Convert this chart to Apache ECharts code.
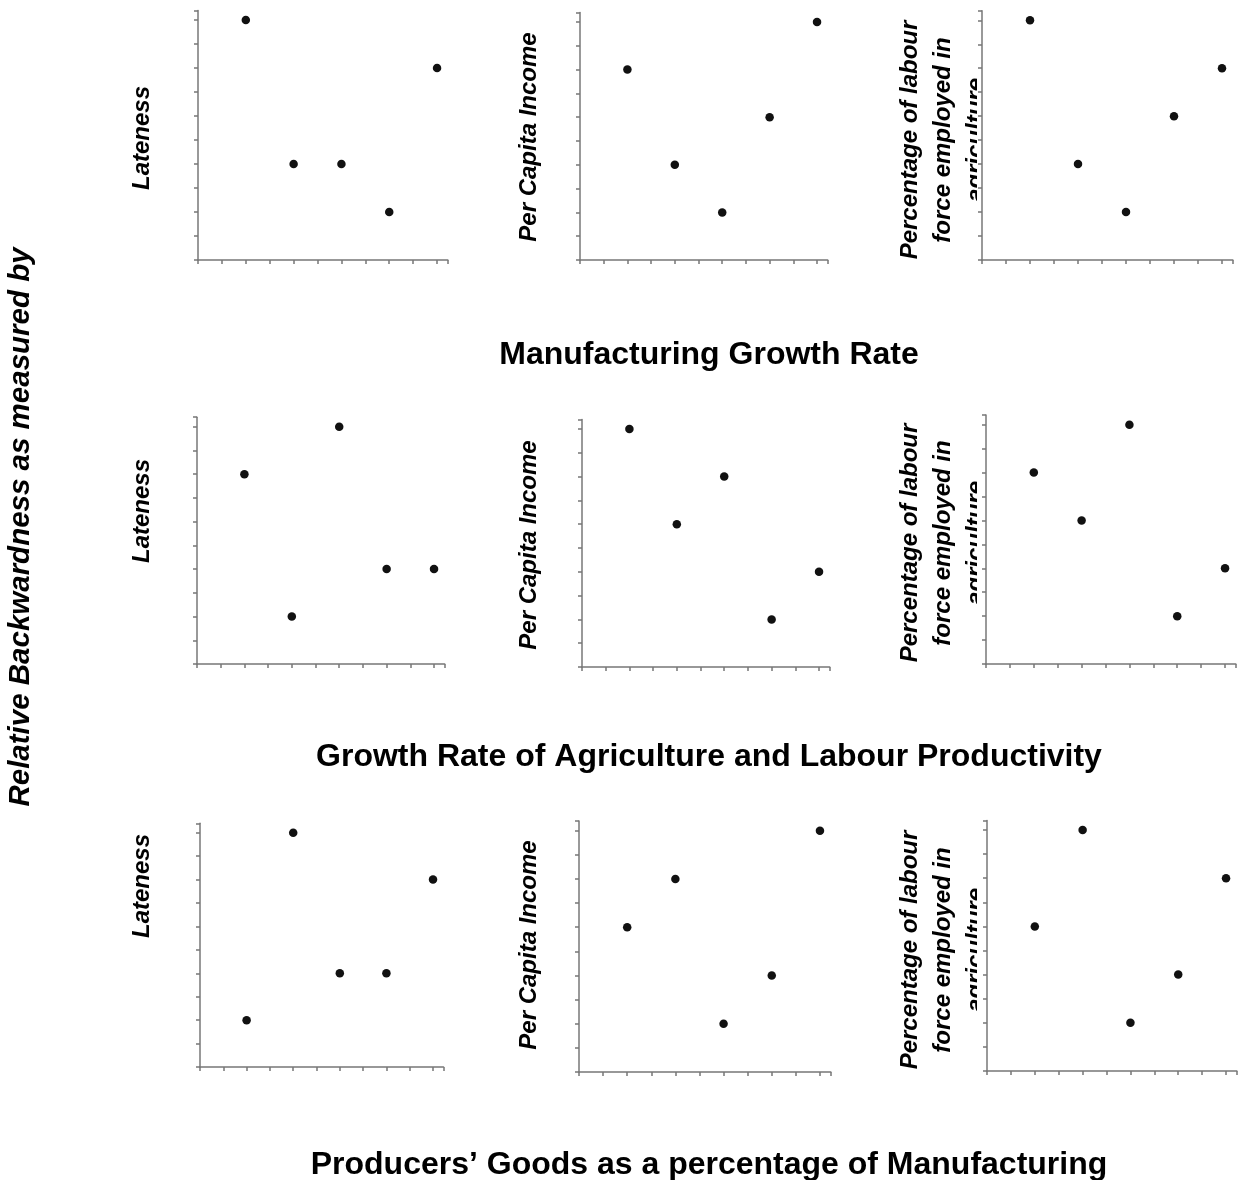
<!DOCTYPE html>
<html>
<head>
<meta charset="utf-8">
<script src="https://cdn.jsdelivr.net/npm/echarts@6/dist/echarts.min.js"></script>
<style>
html,body{margin:0;padding:0;background:#fff;}
#chart{width:1243px;height:1180px;}
</style>
</head>
<body>
<div id="chart"></div>
<script>
// ---- data ----
const xValues = [2, 4, 6, 8, 10];
const mfgLateness = [10, 4, 4, 2, 8];
const mfgIncome = [8, 4, 2, 6, 10];
const mfgLabour = [10, 4, 2, 6, 8];
const agrLateness = [8, 2, 10, 4, 4];
const agrIncome = [10, 6, 8, 2, 4];
const agrLabour = [8, 6, 10, 2, 4];
const pgLateness = [2, 10, 4, 4, 8];
const pgIncome = [6, 8, 2, 4, 10];
const pgLabour = [6, 10, 2, 4, 8];

const rowTitles = [
  'Manufacturing Growth Rate',
  'Growth Rate of Agriculture and Labour Productivity',
  'Producers\u2019 Goods as a percentage of Manufacturing'
];
const panelLabels = [
  'Lateness',
  'Per Capita Income',
  'Percentage of labour\nforce employed in\nagriculture'
];
const sideTitle = 'Relative Backwardness as measured by';

const panelValues = [
  mfgLateness, mfgIncome, mfgLabour,
  agrLateness, agrIncome, agrLabour,
  pgLateness, pgIncome, pgLabour
];

// ---- layout ----
const grids = [
  {left: 198, top: 10.4, width: 249.8, height: 249.6},
  {left: 580, top: 12.5, width: 247.7, height: 247.5},
  {left: 982, top: 10.7, width: 250.8, height: 249.3},
  {left: 197, top: 417.2, width: 247.7, height: 246.8},
  {left: 582, top: 419.5, width: 247.7, height: 247.5},
  {left: 986, top: 415.1, width: 249.8, height: 248.9},
  {left: 200, top: 823.3, width: 243.5, height: 243.7},
  {left: 579, top: 821.0, width: 251.8, height: 251.0},
  {left: 987, top: 820.4, width: 249.8, height: 250.6}
];
const labelX = [142, 529, 943];
const labelY = [[138, 137, 140], [511, 545, 543], [886, 945, 950]];
const titleY = [355, 757, 1165];

const axisLineStyle = {color: '#777777', width: 1.5};
const tickStyle = {color: '#777777', width: 1.5};

const option = {
  backgroundColor: '#ffffff',
  animation: false,
  grid: grids.map(g => Object.assign({containLabel: false}, g)),
  xAxis: grids.map((g, i) => ({
    gridIndex: i, type: 'value', min: 0, max: 10.45, interval: 1, z: 5,
    axisLine: {show: true, onZero: false, lineStyle: axisLineStyle},
    axisTick: {show: true, length: 4, inside: false, lineStyle: tickStyle},
    axisLabel: {show: false}, splitLine: {show: false}
  })),
  yAxis: grids.map((g, i) => ({
    gridIndex: i, type: 'value', min: 0, max: 10.4, interval: 1, z: 5,
    axisLine: {show: true, onZero: false, lineStyle: axisLineStyle},
    axisTick: {show: true, length: 4, inside: false, lineStyle: tickStyle},
    axisLabel: {show: false}, splitLine: {show: false}
  })),
  series: panelValues.map((vals, i) => ({
    type: 'scatter', xAxisIndex: i, yAxisIndex: i, z: 6,
    symbol: 'circle', symbolSize: 8.5,
    itemStyle: {color: '#111111', opacity: 1},
    data: xValues.map((x, k) => [x, vals[k]])
  })),
  graphic: []
};

const fontFamily = '"Liberation Sans", Arial, Helvetica, sans-serif';
for (let r = 0; r < 3; r++) {
  for (let c = 0; c < 3; c++) {
    option.graphic.push({
      type: 'text', x: labelX[c], y: labelY[r][c], rotation: Math.PI / 2, z: 0,
      style: {
        text: panelLabels[c],
        font: 'italic bold 24px ' + fontFamily,
        fill: '#000', textAlign: 'center', textVerticalAlign: 'middle',
        align: 'center', verticalAlign: 'middle', lineHeight: 33
      }
    });
  }
  // the third label column is cut off next to its axis
  option.graphic.push({
    type: 'rect', z: 1,
    shape: {x: 977, y: labelY[r][2] - 130, width: 20, height: 260},
    style: {fill: '#ffffff'}
  });
  option.graphic.push({
    type: 'text', x: 709, y: titleY[r], z: 0,
    style: {
      text: rowTitles[r], font: 'bold 32px ' + fontFamily, fill: '#000',
      textAlign: 'center', textVerticalAlign: 'middle', align: 'center', verticalAlign: 'middle'
    }
  });
}
option.graphic.push({
  type: 'text', x: 21, y: 527, rotation: Math.PI / 2, z: 0,
  style: {
    text: sideTitle, font: 'italic bold 29.5px ' + fontFamily, fill: '#000',
    textAlign: 'center', textVerticalAlign: 'middle', align: 'center', verticalAlign: 'middle'
  }
});

const chart = echarts.init(document.getElementById('chart'));
chart.setOption(option);
</script>
</body>
</html>
